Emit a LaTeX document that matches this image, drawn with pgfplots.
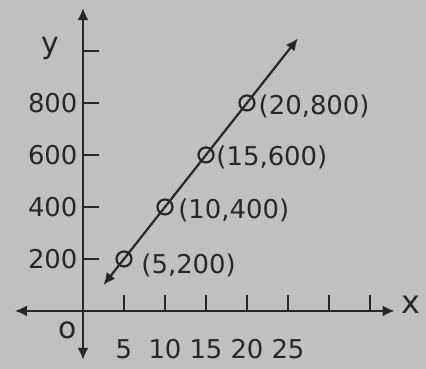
\documentclass[border=0pt]{standalone}
\usepackage{fontspec}
\setmainfont{DejaVu Sans}
\usepackage{pgfplots}
\pgfplotsset{compat=1.18}
\usetikzlibrary{arrows.meta,backgrounds}
\definecolor{paper}{RGB}{190,193,188}
\definecolor{ink}{RGB}{40,40,40}
\newcommand{\lbl}{\fontsize{26}{30}\selectfont}
\begin{document}
\begin{tikzpicture}
\begin{axis}[
  x=8.2bp, y=0.26bp,
  axis lines*=middle,
  xmin=-8.3, xmax=38, ymin=-188, ymax=1165,
  axis line style={ink, line width=2.2bp,
    {Latex[length=12bp,width=11bp]}-{Latex[length=12bp,width=11bp]}},
  tick align=inside,
  major tick length=16bp,
  tick style={ink, line width=2.2bp},
  xtick={5,10,...,35}, xticklabels={5,10,15,20,25,,},
  ytick={200,400,...,1000}, yticklabels={200,400,600,800,},
  /pgf/number format/assume math mode=true,
  ticklabel style={font=\lbl, text=ink},
  xticklabel style={yshift=-25bp},
  yticklabel style={xshift=-2bp},
  clip=false]
  \coordinate (bl) at (axis cs:-10.12,-223);
  \coordinate (tr) at (axis cs:41.83,1196);
  % the line y = 40x
  \addplot[ink, line width=2.2bp,
    {Latex[length=12bp,width=11bp]}-{Latex[length=12bp,width=11bp]}]
    coordinates {(2.5,100)(26.2,1048)};
  \addplot[only marks, mark=o, mark size=7.5bp, ink,
    mark options={line width=2.2bp}]
    coordinates {(5,200)(10,400)(15,600)(20,800)};
  \node[anchor=west, text=ink, font=\lbl] at (axis cs:6.7,177) {(5,200)};
  \node[anchor=west, text=ink, font=\lbl] at (axis cs:11.2,388) {(10,400)};
  \node[anchor=west, text=ink, font=\lbl] at (axis cs:15.85,592) {(15,600)};
  \node[anchor=west, text=ink, font=\lbl] at (axis cs:21.0,788) {(20,800)};
  \node[anchor=base, text=ink, font=\fontsize{30}{34}\selectfont] at (axis cs:-4,992) {y};
  \node[text=ink, font=\fontsize{32}{36}\selectfont] at (axis cs:40,23) {x};
  \node[text=ink, font=\fontsize{30}{34}\selectfont] at (axis cs:-1.83,-73) {o};
\end{axis}
\begin{scope}[on background layer]
  \fill[paper] (bl) rectangle (tr);
\end{scope}
\end{tikzpicture}
\end{document}
